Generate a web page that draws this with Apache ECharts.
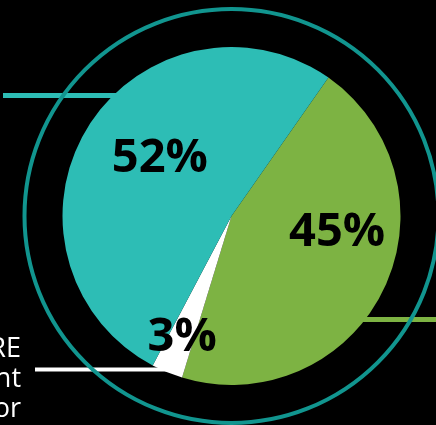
<!DOCTYPE html>
<html>
<head>
<meta charset="utf-8">
<script src="https://cdn.jsdelivr.net/npm/echarts@6/dist/echarts.min.js"></script>
<style>
  html, body { margin: 0; padding: 0; background: #000; }
  #chart { width: 436px; height: 425px; }
</style>
</head>
<body>
<div id="chart"></div>
<script>
// slices, clockwise from the upper-right boundary
const names = ['Green', 'White', 'Teal']
const values = [45, 3, 52]
const colors = ['#7db343', '#ffffff', '#2dbdb5']
// shift each label from the default inside spot
const labelOffsets = [[27, -22], [-16, 41], [3, -12]]
// cut-off caption on the left edge
const captionLines = ['RE', 'nt', 'or']

const chart = echarts.init(document.getElementById('chart'))

const seriesData = names.map((n, i) => ({
  name: n,
  value: values[i],
  itemStyle: { color: colors[i] },
  label: { offset: labelOffsets[i] }
}))

const option = {
  backgroundColor: '#000',
  animation: false,
  graphic: [
    // leader lines
    { type: 'line', z: 1, shape: { x1: 3, y1: 95.5, x2: 130, y2: 95.5 }, style: { stroke: '#2dbdb5', lineWidth: 5 } },
    { type: 'line', z: 1, shape: { x1: 350, y1: 319.5, x2: 436, y2: 319.5 }, style: { stroke: '#7db343', lineWidth: 5 } },
    { type: 'line', z: 1, shape: { x1: 35, y1: 369.5, x2: 168, y2: 369.5 }, style: { stroke: '#ffffff', lineWidth: 4 } },
    // outer ring
    { type: 'circle', z: 2, shape: { cx: 231.5, cy: 216, r: 207 }, style: { fill: 'none', stroke: '#11958f', lineWidth: 4 } }
  ].concat(captionLines.map((t, i) => ({
    type: 'text',
    z: 3,
    x: 21,
    y: 363 + i * 30,
    style: {
      text: t,
      fill: '#fff',
      font: '27px "Open Sans"',
      textAlign: 'right',
      textVerticalAlign: 'bottom'
    }
  }))),
  series: [
    {
      type: 'pie',
      z: 5,
      center: [231.5, 216],
      radius: 169,
      startAngle: 55,
      clockwise: true,
      silent: true,
      label: {
        show: true,
        position: 'inside',
        formatter: '{c}%',
        color: '#000',
        fontFamily: 'Open Sans',
        fontWeight: 'bold',
        fontSize: 47
      },
      labelLine: { show: false },
      data: seriesData
    }
  ]
}

chart.setOption(option)
</script>
</body>
</html>
